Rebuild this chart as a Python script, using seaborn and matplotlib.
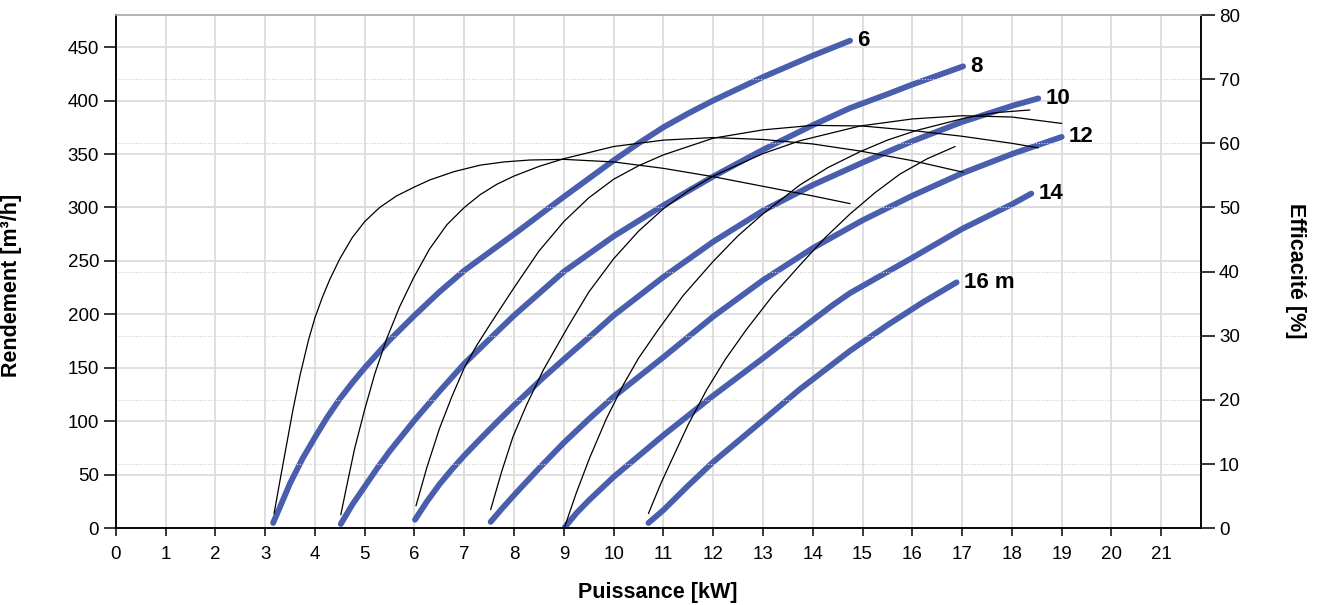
import matplotlib
matplotlib.use("Agg")
import matplotlib.pyplot as plt
import seaborn as sns
import pandas as pd

# head curves: power [kW] vs flow [m3/h]
heads = ["6", "8", "10", "12", "14", "16 m"]

p6 = [3.16, 3.3, 3.5, 3.75, 4.0, 4.25, 4.5, 4.75, 5.0, 5.5, 6.0, 6.5, 7.0, 7.5, 8.0, 9.0, 10.0, 10.5, 11.0,
      11.5, 12.0, 13.0, 14.0, 14.75]
q6 = [5, 20, 42, 65, 85, 104, 121, 136, 150, 176, 199, 221, 241, 258, 275, 310, 344, 360, 375,
      388, 400, 422, 442, 456]

p8 = [4.52, 4.75, 5.0, 5.25, 5.5, 6.0, 6.5, 7.0, 7.62, 8.0, 9.0, 10.0, 11.0, 12.0, 13.0, 14.0, 14.75, 15.5, 16.0, 17.02]
q8 = [4, 22, 39, 56, 72, 101, 128, 154, 182, 199, 240, 273, 302, 329, 354, 377, 393, 406, 415, 432]

p10 = [6.01, 6.25, 6.5, 6.75, 7.0, 7.31, 7.65, 8.0, 8.59, 9.0, 9.59, 10.0, 11.0, 12.0, 13.0, 14.0, 15.0, 16.0, 17.0, 18.0, 18.53]
q10 = [8, 25, 41, 55, 68, 83, 99, 115, 141, 158, 182, 199, 235, 268, 297, 321, 342, 362, 380, 395, 402]

p12 = [7.53, 7.75, 8.0, 8.5, 9.0, 9.5, 10.0, 11.0, 12.0, 13.0, 14.0, 15.0, 16.0, 17.0, 18.0, 19.0]
q12 = [6, 18, 31, 56, 80, 102, 123, 160, 198, 232, 262, 288, 311, 332, 350, 366]

p14 = [9.02, 9.25, 9.5, 10.0, 11.0, 12.0, 13.0, 13.5, 14.41, 14.75, 16.0, 17.0, 18.0, 18.39]
q14 = [1, 14, 26, 48, 87, 124, 159, 177, 209, 220, 253, 280, 303, 313]

p16 = [10.7, 11.0, 11.5, 12.0, 13.0, 13.74, 14.75, 15.5, 16.2, 16.89]
q16 = [5, 17, 40, 62, 101, 130, 166, 190, 211, 230]

# efficiency curves [%]
e6x = [3.18, 3.3, 3.43, 3.56, 3.7, 3.87, 4.0, 4.15, 4.3, 4.5, 4.75, 5.0, 5.3, 5.64, 6.0, 6.31, 6.8,
       7.32, 7.8, 8.32, 9.0, 10.0, 11.0, 12.0, 13.0, 14.0, 14.75]
e6y = [2.3, 7.5, 13.0, 18.5, 23.8, 29.3, 32.8, 36.0, 38.8, 42.0, 45.3, 47.8, 50.0, 51.8, 53.2, 54.3, 55.6,
       56.6, 57.1, 57.4, 57.5, 57.1, 56.1, 54.8, 53.3, 51.8, 50.6]

e8x = [4.52, 4.65, 4.8, 5.0, 5.2, 5.44, 5.7, 5.98, 6.3, 6.65, 7.0, 7.32, 7.65, 8.0, 8.5, 9.0, 10.0,
       11.0, 12.0, 13.0, 14.0, 14.95, 16.0, 17.02]
e8y = [2.1, 7.0, 12.5, 18.5, 24.0, 29.5, 34.5, 39.0, 43.5, 47.3, 50.0, 52.0, 53.6, 54.9, 56.4, 57.6, 59.5,
       60.5, 60.9, 60.6, 59.9, 58.8, 57.3, 55.5]

e10x = [6.03, 6.25, 6.5, 6.75, 7.0, 7.25, 7.52, 8.0, 8.5, 9.0, 9.5, 10.0, 10.5, 11.0, 12.0, 13.0, 14.0,
        15.0, 16.0, 17.0, 18.0, 18.53]
e10y = [3.5, 9.5, 15.5, 20.5, 25.0, 28.5, 31.8, 37.5, 43.2, 47.8, 51.5, 54.4, 56.5, 58.2, 60.8, 62.1, 62.8,
        62.7, 62.0, 61.1, 60.0, 59.3]

e12x = [7.53, 7.75, 7.98, 8.25, 8.59, 9.09, 9.5, 10.0, 10.5, 11.0, 11.5, 12.0, 13.0, 13.74, 14.95, 16.0,
        17.0, 18.0, 19.0]
e12y = [2.9, 8.8, 14.3, 19.2, 24.7, 31.5, 36.8, 42.0, 46.3, 49.8, 52.6, 54.9, 58.4, 60.4, 62.7, 63.8,
        64.3, 64.1, 63.1]

e14x = [9.02, 9.25, 9.52, 9.85, 10.19, 10.5, 10.9, 11.4, 12.0, 12.5, 13.0, 13.74, 14.3, 14.95, 15.5,
        16.08, 17.09, 17.7, 18.36]
e14y = [0.3, 5.5, 11.0, 17.0, 22.3, 26.5, 31.0, 36.3, 41.6, 45.6, 49.0, 53.5, 56.2, 58.7, 60.5,
        62.0, 64.0, 64.8, 65.2]

e16x = [10.7, 10.95, 11.2, 11.5, 11.87, 12.25, 12.67, 13.2, 13.74, 14.25, 14.75, 15.25, 15.75, 16.3, 16.86]
e16y = [2.3, 7.0, 11.2, 16.2, 21.6, 26.4, 31.0, 36.3, 41.0, 45.3, 49.0, 52.3, 55.2, 57.6, 59.5]

x_ticks = list(range(0, 22))
q_ticks = list(range(0, 451, 50))
e_ticks = list(range(0, 81, 10))

flow = pd.concat([pd.DataFrame({"p": p, "q": q, "head": h})
                  for p, q, h in zip([p6, p8, p10, p12, p14, p16],
                                     [q6, q8, q10, q12, q14, q16], heads)])
eff = pd.concat([pd.DataFrame({"p": x, "e": y, "head": h})
                 for x, y, h in zip([e6x, e8x, e10x, e12x, e14x, e16x],
                                    [e6y, e8y, e10y, e12y, e14y, e16y], heads)])

sns.set_style("white")
plt.rcParams["font.family"] = ["Liberation Sans", "DejaVu Sans"]
plt.rcParams["text.color"] = "black"
plt.rcParams["axes.labelcolor"] = "black"
plt.rcParams["xtick.color"] = "black"
plt.rcParams["ytick.color"] = "black"

blue = "#4a5eae"
grid_c = "#dcdcdc"

fig = plt.figure(figsize=(13.2, 6.05), dpi=100)
ax = fig.add_axes([0.0877, 0.1268, 0.8222, 0.8484])
ax2 = ax.twinx()

sns.lineplot(data=flow, x="p", y="q", units="head", estimator=None, sort=False,
             color=blue, lw=4.2, solid_capstyle="round", solid_joinstyle="round", ax=ax)
sns.lineplot(data=eff, x="p", y="e", units="head", estimator=None, sort=False,
             color="black", lw=0.9, solid_joinstyle="round", ax=ax2)

ax.set_xlim(0, 21.8)
ax.set_ylim(0, 480)
ax2.set_ylim(0, 80)
ax.set_xticks(x_ticks)
ax.set_yticks(q_ticks)
ax2.set_yticks(e_ticks)

ax.grid(True, axis="both", color=grid_c, lw=1.3)
ax2.grid(True, axis="y", color="#d0d0d0", lw=0.8, ls=(0, (1, 1.5)))
ax.set_axisbelow(True)

for a in (ax, ax2):
    for s in a.spines.values():
        s.set_linewidth(1.1)
        s.set_color("black")
    a.spines["top"].set_color("#b0b0b0")

ax.tick_params(axis="y", direction="out", length=9, width=1.1, pad=3, labelsize=13.5, left=True)
ax.tick_params(axis="x", direction="out", length=6, width=1.1, pad=7, labelsize=13.5, bottom=True)
ax2.tick_params(axis="y", direction="out", length=10, width=1.1, pad=3, labelsize=13.5, right=True)

ax.set_xlabel("Puissance [kW]", fontsize=15.5, fontweight="bold")
ax.set_ylabel("Rendement [m³/h]", fontsize=15.5, fontweight="bold")
ax2.set_ylabel("Efficacité [%]", fontsize=15.5, fontweight="bold", rotation=270, va="center")
ax.xaxis.set_label_coords(0.4997, -0.104)
ax.yaxis.set_label_coords(-0.0863, 0.474)
ax2.yaxis.set_label_coords(1.0866, 0.501)

# head labels at the end of each curve
for p, q, h in zip([p6, p8, p10, p12, p14, p16], [q6, q8, q10, q12, q14, q16], heads):
    ax.annotate(h, (p[-1], q[-1]), xytext=(5, 0), textcoords="offset points",
                ha="left", va="center", fontsize=16, fontweight="bold", color="black")

fig.savefig("out.png", dpi=100)
